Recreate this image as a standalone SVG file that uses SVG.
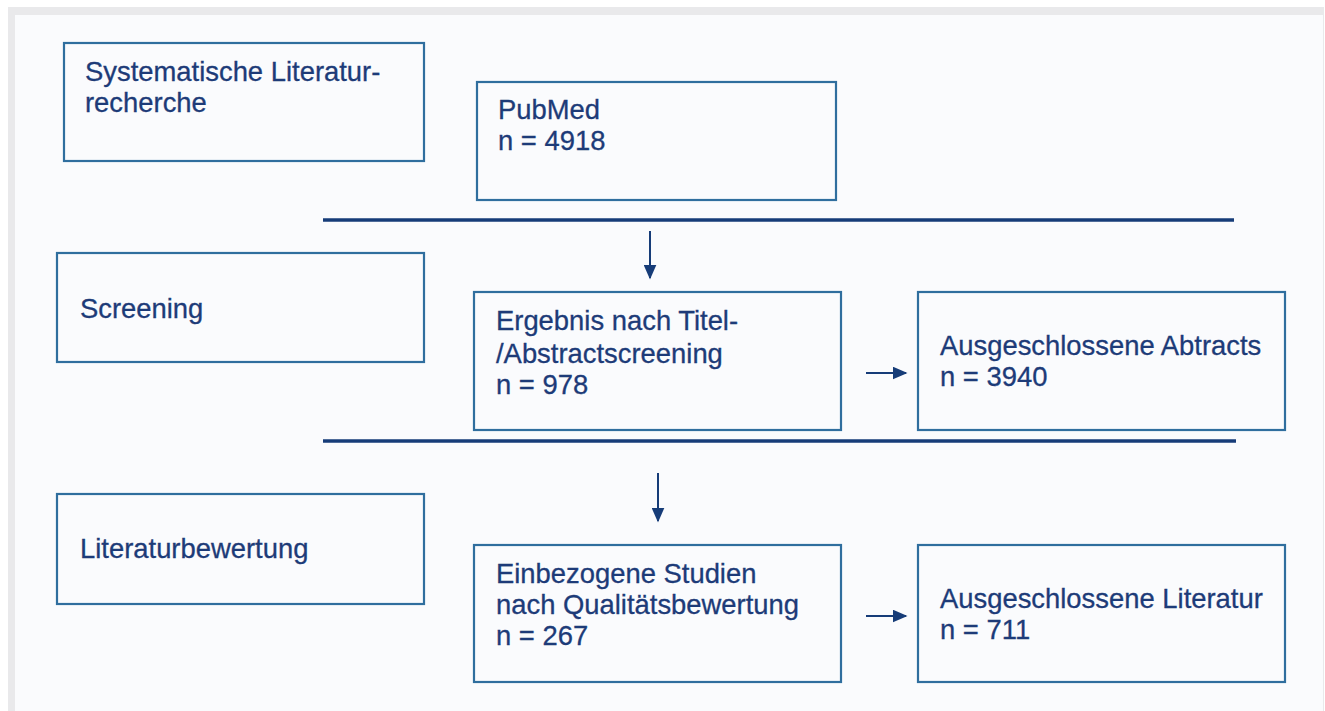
<svg xmlns="http://www.w3.org/2000/svg" width="1325" height="711" viewBox="0 0 1325 711">
<defs>
<style>
.box{fill:none;stroke:#2f6e9e;stroke-width:2.2}
.t{font-family:'Liberation Sans',Arimo,Arial,sans-serif;font-size:27.4px;fill:#1d3b78;stroke:#1d3b78;stroke-width:0.3}
.sep{stroke:#163c78;stroke-width:3.5}
.arr{stroke:#163c78;stroke-width:2;fill:none}
</style>
<marker id="ah" viewBox="0 0 10 10" refX="9" refY="5" markerWidth="7.5" markerHeight="6.5" markerUnits="strokeWidth" orient="auto" preserveAspectRatio="none">
<path d="M0,0 L10,5 L0,10 z" fill="#163c78"/>
</marker>
</defs>
<rect x="0" y="0" width="1325" height="711" fill="#ffffff"/>
<rect x="8" y="7" width="1316" height="704" fill="#e9e9eb"/>
<rect x="15" y="15" width="1308" height="696" fill="#fafbfd"/>

<g id="n-systematik">
<rect class="box" x="64" y="43" width="360" height="118"/>
<text class="t" x="85" y="81">Systematische Literatur-</text>
<text class="t" x="85" y="112">recherche</text>
</g>
<g id="n-pubmed">
<rect class="box" x="477" y="82" width="359" height="118"/>
<text class="t" x="498" y="119">PubMed</text>
<text class="t" x="498" y="150">n = 4918</text>
</g>
<g id="n-screening">
<rect class="box" x="57" y="253" width="367" height="109"/>
<text class="t" x="80" y="318">Screening</text>
</g>
<g id="n-ergebnis">
<rect class="box" x="474" y="292" width="367" height="138"/>
<text class="t" x="496" y="330">Ergebnis nach Titel-</text>
<text class="t" x="496" y="363">/Abstractscreening</text>
<text class="t" x="496" y="394">n = 978</text>
</g>
<g id="n-ausg-abstracts">
<rect class="box" x="918" y="292" width="367" height="138"/>
<text class="t" x="940" y="355">Ausgeschlossene Abtracts</text>
<text class="t" x="940" y="386">n = 3940</text>
</g>
<g id="n-literaturbewertung">
<rect class="box" x="57" y="494" width="367" height="110"/>
<text class="t" x="80" y="558">Literaturbewertung</text>
</g>
<g id="n-einbezogen">
<rect class="box" x="474" y="545" width="367" height="137"/>
<text class="t" x="496" y="583">Einbezogene Studien</text>
<text class="t" x="496" y="614">nach Qualitätsbewertung</text>
<text class="t" x="496" y="645">n = 267</text>
</g>
<g id="n-ausg-literatur">
<rect class="box" x="918" y="545" width="367" height="137"/>
<text class="t" x="940" y="608">Ausgeschlossene Literatur</text>
<text class="t" x="940" y="639">n = 711</text>
</g>

<g id="connectors">
<line class="sep" x1="323" y1="220" x2="1234" y2="220"/>
<line class="sep" x1="323" y1="441" x2="1236" y2="441"/>
<line class="arr" x1="650" y1="231" x2="650" y2="278" marker-end="url(#ah)"/>
<line class="arr" x1="658" y1="473" x2="658" y2="521" marker-end="url(#ah)"/>
<line class="arr" x1="866" y1="373" x2="906" y2="373" marker-end="url(#ah)"/>
<line class="arr" x1="866" y1="616" x2="906" y2="616" marker-end="url(#ah)"/>
</g>
</svg>
